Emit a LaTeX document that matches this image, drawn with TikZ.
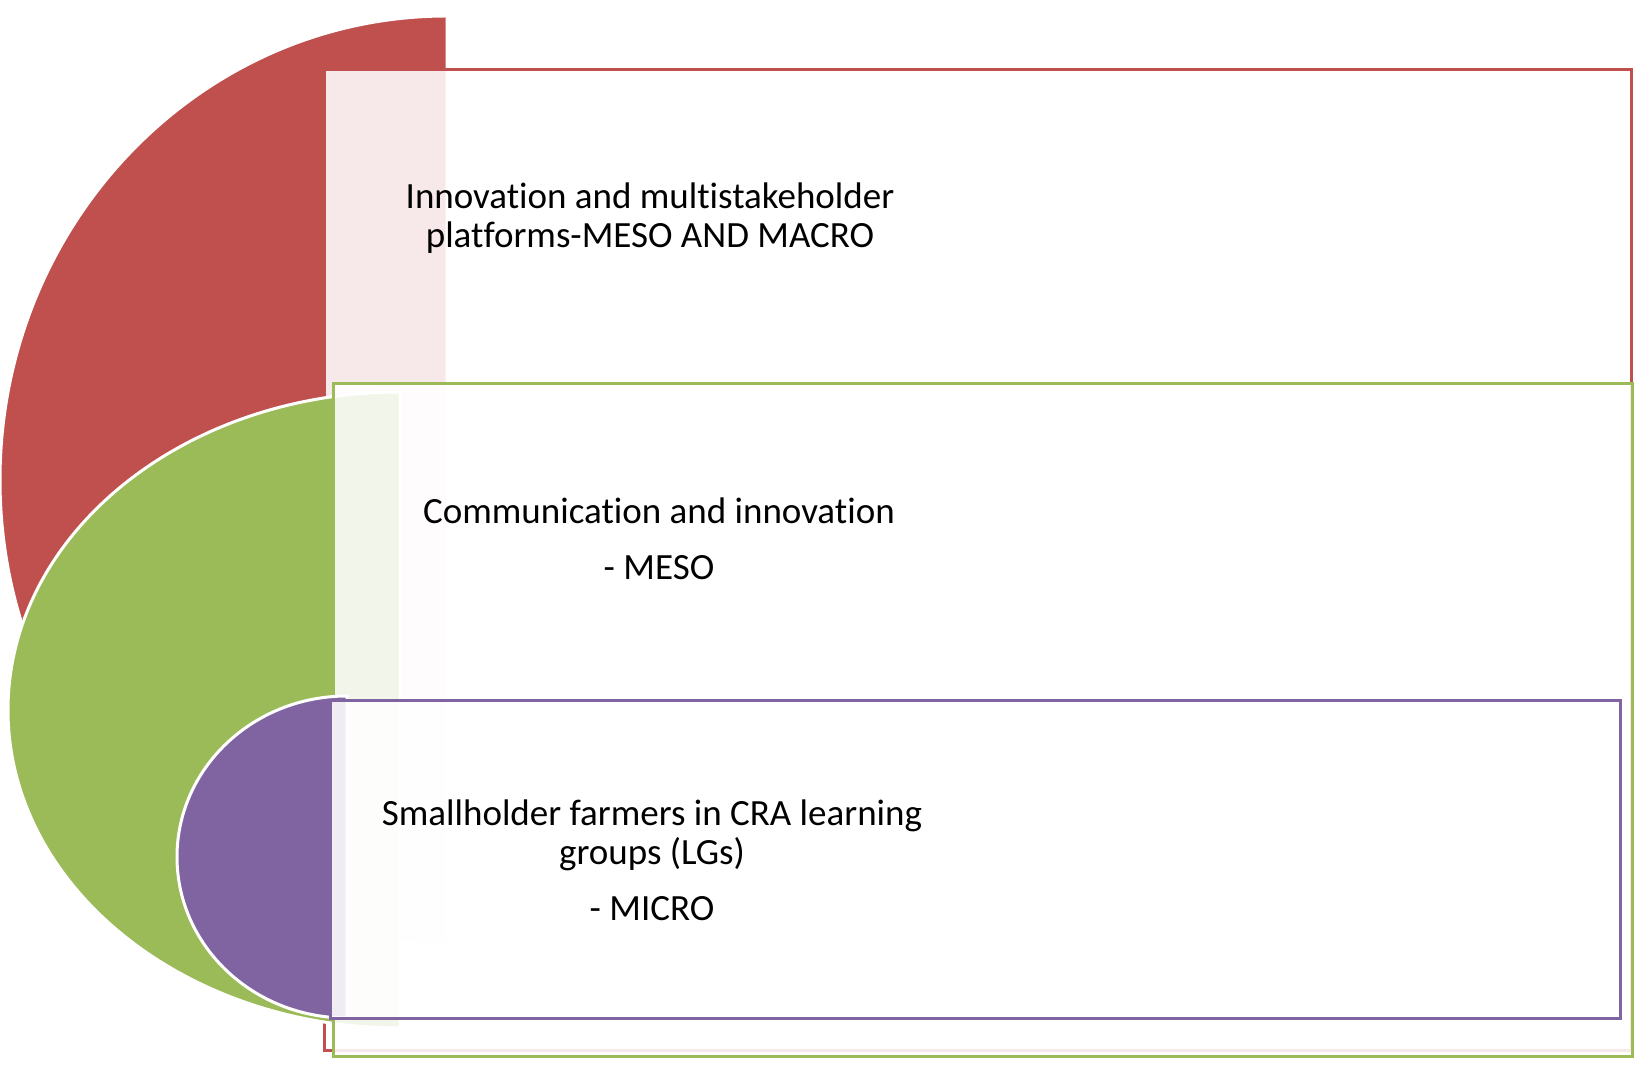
\documentclass[tikz,border=0pt]{standalone}
\usepackage{fontspec}
\setmainfont[Ligatures=NoCommon]{Carlito}
\definecolor{cred}{HTML}{C0504D}
\definecolor{cgreen}{HTML}{9BBB59}
\definecolor{cpurple}{HTML}{8064A2}
\tikzset{
  halfshape/.style={fill=#1, draw=white, line width=3pt},
  levelbox/.style={draw=#1, line width=3pt, fill=white, fill opacity=0.88},
  leveltext/.style={align=center, text=black, font=\fontsize{37}{39.5}\selectfont}
}
\begin{document}
\begin{tikzpicture}[x=1pt,y=1pt]
\useasboundingbox (0,0) rectangle (1638,1067);
% red level
\path[halfshape=cred] (447,1051) arc[start angle=90, end angle=270, x radius=447, y radius=464] -- cycle;
\path[levelbox=cred] (324,997) rectangle (1631,16);
% green level
\path[halfshape=cgreen] (400,675) arc[start angle=90, end angle=270, x radius=392, y radius=318] -- cycle;
\path[levelbox=cgreen] (333,683) rectangle (1632,10);
% purple level
\path[halfshape=cpurple] (347,371) arc[start angle=90, end angle=270, x radius=170, y radius=161] -- cycle;
\path[levelbox=cpurple] (330,366) rectangle (1620,48);
% texts
\node[leveltext] (t1) at (650,849) {Innovation and multistakeholder\\platforms-MESO AND MACRO};
\node[leveltext] (t2) at (659,528) {Communication and innovation\\[16pt]- MESO};
\node[leveltext] (t3) at (652,207) {Smallholder farmers in CRA learning\\groups (LGs)\\[16pt]- MICRO};
\end{tikzpicture}
\end{document}
